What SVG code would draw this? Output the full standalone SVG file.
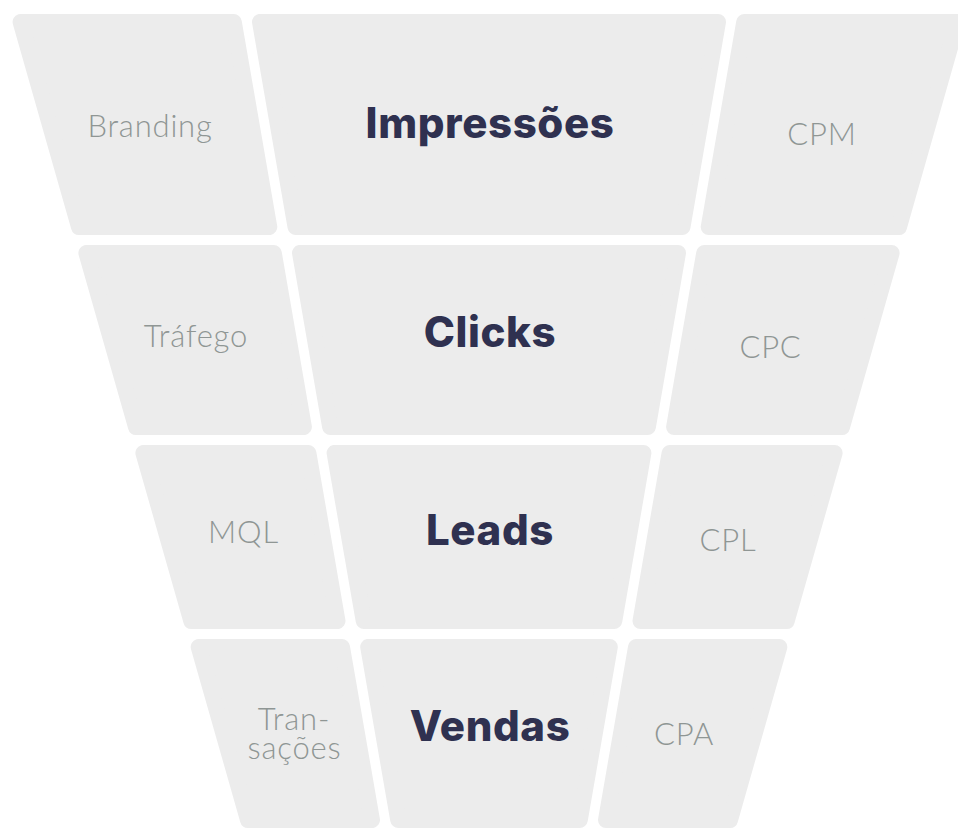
<svg xmlns="http://www.w3.org/2000/svg" width="958" height="829" viewBox="0 0 958 829">
  <style>
    .cell { fill: #ececec; stroke: #ececec; stroke-width: 16; stroke-linejoin: round; }
    .side { font-family: Lato, "Liberation Sans", sans-serif; font-weight: 300; font-size: 31px; letter-spacing: 0.8px; fill: #8f9694; text-anchor: middle; }
    .main { font-family: Inter, "Liberation Sans", sans-serif; font-weight: 800; font-size: 42px; letter-spacing: 0.6px; fill: #2f3150; text-anchor: middle; }
  </style>
  <rect width="958" height="829" fill="#ffffff"/>

  <!-- Row 1: Impressões -->
  <g id="branding">
    <polygon class="cell" points="20.6,22 233.8,22 269.3,227 79.0,227"/>
    <text class="side" x="150" y="137">Branding</text>
  </g>
  <g id="impressoes">
    <polygon class="cell" points="260.0,22 718.0,22 682.5,227 295.5,227"/>
    <text class="main" x="490" y="138">Impressões</text>
  </g>
  <g id="cpm">
    <polygon class="cell" points="744.2,22 957.4,22 899.0,227 708.7,227"/>
    <text class="side" x="822" y="145">CPM</text>
  </g>

  <!-- Row 2: Clicks -->
  <g id="trafego">
    <polygon class="cell" points="86.4,253 273.8,253 303.9,427 136.0,427"/>
    <text class="side" x="196" y="347">Tráfego</text>
  </g>
  <g id="clicks">
    <polygon class="cell" points="300.0,253 678.0,253 647.9,427 330.1,427"/>
    <text class="main" x="490" y="347">Clicks</text>
  </g>
  <g id="cpc">
    <polygon class="cell" points="704.2,253 891.6,253 842.0,427 674.1,427"/>
    <text class="side" x="770.5" y="358">CPC</text>
  </g>

  <!-- Row 3: Leads -->
  <g id="mql">
    <polygon class="cell" points="143.4,453 308.4,453 337.5,621 191.3,621"/>
    <text class="side" x="243.5" y="543">MQL</text>
  </g>
  <g id="leads">
    <polygon class="cell" points="334.6,453 643.4,453 614.3,621 363.7,621"/>
    <text class="main" x="490" y="545">Leads</text>
  </g>
  <g id="cpl">
    <polygon class="cell" points="669.6,453 834.6,453 786.7,621 640.5,621"/>
    <text class="side" x="728" y="551">CPL</text>
  </g>

  <!-- Row 4: Vendas -->
  <g id="transacoes">
    <polygon class="cell" points="198.7,647 342.0,647 372.0,820 248.0,820"/>
    <text class="side" x="294" y="730">Tran-</text>
    <text class="side" x="294.5" y="759">sações</text>
  </g>
  <g id="vendas">
    <polygon class="cell" points="368.2,647 609.8,647 579.8,820 398.2,820"/>
    <text class="main" x="490" y="741">Vendas</text>
  </g>
  <g id="cpa">
    <polygon class="cell" points="636.0,647 779.3,647 730.0,820 606.0,820"/>
    <text class="side" x="684" y="745">CPA</text>
  </g>
</svg>
